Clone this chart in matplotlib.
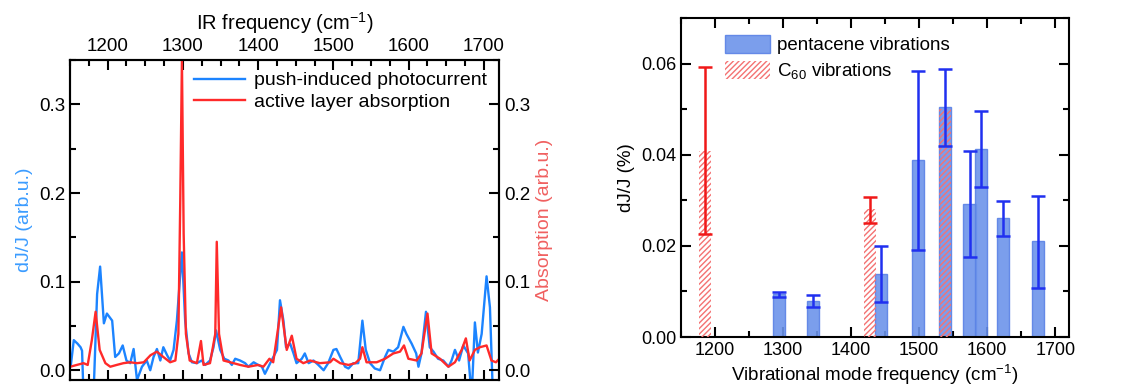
import numpy as np
import matplotlib
matplotlib.use('Agg')
import matplotlib.pyplot as plt
from matplotlib.ticker import MultipleLocator

plt.rcParams['font.family'] = ['Liberation Sans', 'DejaVu Sans']
plt.rcParams['mathtext.default'] = 'regular'
plt.rcParams['font.size'] = 13
plt.rcParams['hatch.linewidth'] = 1.0

# left panel: spectra
pc_freq = [1151, 1155, 1160, 1164, 1166, 1168, 1180, 1182, 1186, 1190, 1195, 1199, 1206,
           1210, 1215, 1220, 1225, 1230, 1234.5, 1239, 1245.6, 1252, 1256.6, 1261, 1265.5,
           1270, 1274, 1279, 1283, 1287.6, 1292, 1295.6, 1298.7, 1303, 1307.5, 1312, 1318.6,
           1325, 1329.6, 1336, 1340.7, 1344, 1349.6, 1355, 1360.6, 1365, 1369.5, 1376, 1382.7,
           1387, 1394, 1400, 1405, 1409, 1416, 1425, 1429, 1433.6, 1437, 1442.5, 1447, 1451,
           1458, 1462, 1467, 1473.5, 1480, 1487, 1493, 1500, 1504, 1509, 1515.5, 1520, 1526.5,
           1533, 1538.5, 1543, 1548.7, 1555, 1562, 1568.6, 1573, 1579.6, 1586, 1593, 1597,
           1604, 1610, 1613, 1617, 1623, 1628, 1633, 1639, 1646, 1653, 1657, 1661.5, 1667,
           1672.6, 1679, 1683.7, 1688, 1692, 1697, 1703.5, 1708, 1712, 1716]
pc_val = [0.005, 0.034, 0.030, 0.026, 0.022, -0.03, -0.03, -0.01, 0.086, 0.117, 0.053, 0.064, 0.056,
          0.015, 0.019, 0.028, 0.011, 0.008, 0.024, -0.011, 0.004, 0.011, 0.0, 0.015, 0.024,
          0.011, 0.026, 0.017, 0.011, 0.023, 0.056, 0.098, 0.133, 0.056, 0.019, 0.009, 0.008,
          0.011, 0.006, 0.011, 0.026, 0.045, 0.023, 0.013, 0.011, 0.006, 0.013, 0.011, 0.008,
          0.004, 0.009, 0.006, 0.004, -0.004, 0.008, 0.023, 0.079, 0.056, 0.026, 0.030, 0.019, 0.008,
          0.013, 0.019, 0.008, 0.011, 0.006, 0.0, 0.008, 0.023, 0.024, 0.015, 0.004, 0.002, 0.008,
          0.008, 0.056, 0.023, 0.008, 0.002, 0.0, 0.015, 0.023, 0.021, 0.026, 0.049, 0.041,
          0.030, 0.019, 0.004, 0.019, 0.066, 0.026, 0.021, 0.013, 0.011, 0.004, 0.011, 0.023, 0.011,
          0.028, 0.019, -0.03, 0.054, 0.020, 0.041, 0.106, 0.071, -0.03, -0.03]

abs_freq = [1150.4, 1159, 1168, 1173.5, 1179, 1184, 1189.4, 1197, 1203.5, 1212, 1221, 1230,
            1239, 1248, 1257, 1265.5, 1274, 1283, 1290, 1294, 1296.5, 1298.7, 1301, 1304, 1309,
            1318.6, 1324, 1327.4, 1336, 1343, 1345, 1348, 1354, 1363, 1376, 1387, 1400, 1407,
            1415, 1420, 1430.5, 1438, 1444.7, 1451, 1460, 1469, 1482, 1495.6, 1500, 1509, 1520,
            1529, 1535.4, 1538.5, 1544, 1557.5, 1568.6, 1579.6, 1588.5, 1593.8, 1599.6, 1610.6,
            1617, 1625, 1630.5, 1641.6, 1652.7, 1661.5, 1670.4, 1676, 1681, 1688, 1694.7, 1703.5,
            1710, 1716, 1720.4]
abs_val = [0.004, 0.006, 0.008, 0.006, 0.034, 0.066, 0.023, 0.008, 0.004, 0.006, 0.008, 0.009,
           0.008, 0.009, 0.017, 0.021, 0.015, 0.009, 0.011, 0.041, 0.192, 0.35, 0.154, 0.041, 0.011,
           0.008, 0.033, 0.006, 0.008, 0.041, 0.145, 0.041, 0.011, 0.009, 0.006, 0.004, 0.006, 0.004,
           0.013, 0.009, 0.071, 0.023, 0.039, 0.013, 0.008, 0.011, 0.008, 0.009, 0.013, 0.008, 0.006,
           0.008, 0.013, 0.026, 0.009, 0.009, 0.013, 0.019, 0.021, 0.028, 0.013, 0.011,
           0.019, 0.064, 0.019, 0.013, 0.004, 0.009, 0.023, 0.036, 0.011, 0.023, 0.026, 0.028,
           0.011, 0.009, 0.013]

# right panel: bars
pen_freq = [1294, 1344, 1444, 1498, 1538, 1574, 1591, 1623, 1674]
pen_val = [0.0094, 0.0078, 0.0139, 0.0388, 0.0504, 0.0291, 0.0413, 0.0261, 0.0210]
pen_lo = [0.0087, 0.0066, 0.0076, 0.0190, 0.0420, 0.0175, 0.0329, 0.0222, 0.0108]
pen_hi = [0.0099, 0.0092, 0.0199, 0.0584, 0.0587, 0.0408, 0.0497, 0.0299, 0.0310]

c60_freq = [1185, 1428, 1538]
c60_val = [0.0409, 0.0280, 0.0500]
c60_err_freq = [1185, 1428]
c60_err_val = [0.0409, 0.0280]
c60_lo = [0.0225, 0.0250]
c60_hi = [0.0592, 0.0307]

blue = '#1c84ff'
red = '#ff2a2a'

fig = plt.figure(figsize=(11.33, 3.92), dpi=100)

ax = fig.add_axes([0.0618, 0.0306, 0.3786, 0.816])
ax.plot(pc_freq, pc_val, color=blue, lw=1.7, label='push-induced photocurrent')
ax.set_xlim(1150, 1720)
ax.set_ylim(-0.011, 0.35)
ax2 = ax.twinx()
ax2.plot(abs_freq, abs_val, color=red, lw=1.7, label='active layer absorption')
ax2.set_ylim(-0.011, 0.35)

ax.xaxis.set_major_locator(MultipleLocator(100))
ax.xaxis.set_minor_locator(MultipleLocator(25))
ax.yaxis.set_major_locator(MultipleLocator(0.1))
ax.yaxis.set_minor_locator(MultipleLocator(0.05))
ax2.yaxis.set_major_locator(MultipleLocator(0.1))
ax2.yaxis.set_minor_locator(MultipleLocator(0.05))
ax.yaxis.set_major_formatter(plt.FormatStrFormatter('%.1f'))
ax2.yaxis.set_major_formatter(plt.FormatStrFormatter('%.1f'))
ax.tick_params(which='both', direction='in', top=True, bottom=True, labeltop=True,
               labelbottom=False, width=1.5, labelsize=13.5)
ax.tick_params(which='major', length=7)
ax.tick_params(which='minor', length=4)
ax2.tick_params(which='both', direction='in', width=1.5, labelsize=13.5)
ax2.tick_params(which='major', length=7)
ax2.tick_params(which='minor', length=4)
ax.xaxis.set_label_position('top')
ax.set_xlabel('IR frequency (cm$^{-1}$)', fontsize=14.5, labelpad=6)
ax.set_ylabel('dJ/J (arb.u.)', color='#3b9cff', fontsize=14)
ax2.set_ylabel('Absorption (arb.u.)', color='#f06060', fontsize=14)
for a in (ax, ax2):
    for s in a.spines.values():
        s.set_linewidth(1.5)

h1, l1 = ax.get_legend_handles_labels()
h2, l2 = ax2.get_legend_handles_labels()
ax2.legend(h1 + h2, l1 + l2, loc='upper right', frameon=False, fontsize=14,
           handlelength=2.6, borderaxespad=0.2, labelspacing=0.2, handletextpad=0.5)

# right panel
bx = fig.add_axes([0.601, 0.1403, 0.3425, 0.8138])
pen_val_a = np.array(pen_val)
pen_err = [pen_val_a - np.array(pen_lo), np.array(pen_hi) - pen_val_a]
bx.bar(pen_freq, pen_val, width=18, color='#6d94ea', edgecolor='#5a82e6', lw=1,
       alpha=0.9, label='pentacene vibrations', zorder=2)
bx.bar(c60_freq, c60_val, width=18, facecolor='none', edgecolor='#f47272', lw=0,
       hatch='//////', label='C$_{60}$ vibrations', zorder=3)
bx.errorbar(pen_freq, pen_val, yerr=pen_err, fmt='none', ecolor='#2030f0',
            elinewidth=1.8, capsize=5, capthick=1.8, zorder=4)
c60_v = np.array(c60_err_val)
c60_err = [c60_v - np.array(c60_lo), np.array(c60_hi) - c60_v]
bx.errorbar(c60_err_freq, c60_err_val, yerr=c60_err, fmt='none', ecolor='#f01818',
            elinewidth=1.8, capsize=5, capthick=1.8, zorder=4)

bx.set_xlim(1150, 1720)
bx.set_ylim(0, 0.07)
bx.xaxis.set_major_locator(MultipleLocator(100))
bx.xaxis.set_minor_locator(MultipleLocator(50))
bx.yaxis.set_major_locator(MultipleLocator(0.02))
bx.yaxis.set_minor_locator(MultipleLocator(0.01))
bx.yaxis.set_major_formatter(plt.FormatStrFormatter('%.2f'))
bx.tick_params(which='both', direction='in', top=True, right=True, width=1.5, labelsize=13)
bx.tick_params(which='major', length=7)
bx.tick_params(which='minor', length=4)
for s in bx.spines.values():
    s.set_linewidth(1.5)
bx.set_xlabel('Vibrational mode frequency (cm$^{-1}$)', fontsize=13.5, labelpad=3)
bx.set_ylabel('dJ/J (%)', fontsize=13.5)
bx.legend(loc='upper left', bbox_to_anchor=(0.07, 1.0), frameon=False, fontsize=13.5,
          handlelength=2.4, handleheight=1.1, labelspacing=0.35, handletextpad=0.4)

fig.savefig('out.png', dpi=100)
